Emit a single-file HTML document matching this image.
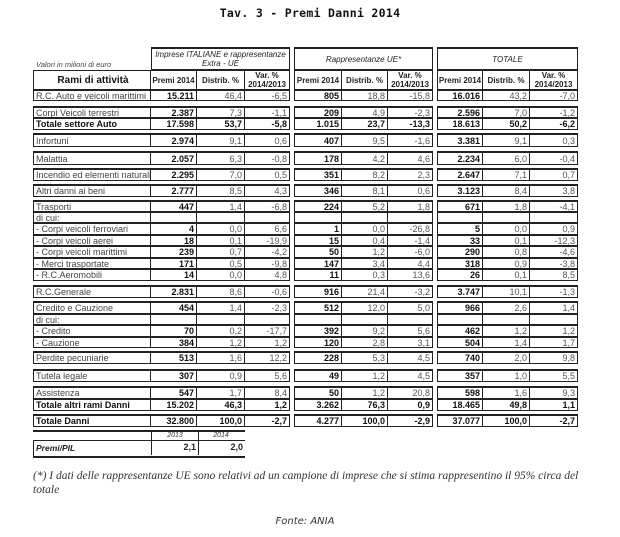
<!DOCTYPE html>
<html><head><meta charset="utf-8"><style>
body{margin:0;width:620px;height:537px;background:#fff;position:relative;overflow:hidden;font-family:"Liberation Sans",Arial,sans-serif;color:#222}
.t{position:absolute;left:0;width:620px;top:6px;text-align:center;font:bold 11.5px "DejaVu Sans Mono",monospace;letter-spacing:0.3px;color:#111}
.r{position:absolute;left:33px;display:grid;grid-template-columns:118px 46px 48px 45px 4px 48px 46px 45px 4px 46px 47px 48px;font-size:9px}
.r>*{box-sizing:border-box;border-top:1px solid #222;border-bottom:1px solid #222;border-right:1px solid #222;text-align:right;padding-right:2px;white-space:nowrap;overflow:hidden;display:flex;align-items:center;justify-content:flex-end;font-style:normal;color:#555}
.r>b{color:#111}
.r>.l{border-left:1px solid #222;justify-content:flex-start;padding-left:2px;color:#444}
.r>.f{border-left:1px solid #222}
.r>i{border:none}
.r.k>*{border-top-width:2px}
.r.B>*{font-weight:bold;color:#111}
.h>*{justify-content:center;text-align:center;font-size:8px;line-height:9px;color:#222;padding:0}
.h2>*{font-weight:bold}
.fn{position:absolute;left:33px;font:italic 11.5px "Liberation Serif",serif;color:#333;white-space:nowrap}
</style></head><body>
<div class="t">Tav. 3 - Premi Danni 2014</div>
<div style="position:absolute;left:36px;top:60px;font:italic 7.5px 'Liberation Sans',sans-serif;color:#444">Valori in milioni di euro</div>

<div class="r h k" style="top:47px;height:23px">
<i></i><span class="f" style="grid-column:span 3;font-style:italic">Imprese ITALIANE e rappresentanze<br>Extra - UE</span><i></i><span class="f" style="grid-column:span 3;font-style:italic">Rappresentanze UE*</span><i></i><span class="f" style="grid-column:span 3;font-style:italic">TOTALE</span>
</div>
<div class="r h h2" style="top:70px;height:20px">
<span class="l" style="justify-content:center;font-size:10px;color:#111">Rami di attività</span><span>Premi 2014</span><span>Distrib. %</span><span>Var. %<br>2014/2013</span><i></i><span class="f">Premi 2014</span><span>Distrib. %</span><span>Var. %<br>2014/2013</span><i></i><span class="f">Premi 2014</span><span>Distrib. %</span><span>Var. %<br>2014/2013</span>
</div>

<div class="r" style="top:90px;height:11px"><span class="l">R.C. Auto e veicoli marittimi</span><b>15.211</b><span>46,4</span><span>-6,5</span><i></i><b class="f">805</b><span>18,8</span><span>-15,8</span><i></i><b class="f">16.016</b><span>43,2</span><span>-7,0</span></div>
<div class="r k" style="top:106px;height:12px"><span class="l">Corpi Veicoli terrestri</span><b>2.387</b><span>7,3</span><span>-1,1</span><i></i><b class="f">209</b><span>4,9</span><span>-2,3</span><i></i><b class="f">2.596</b><span>7,0</span><span>-1,2</span></div>
<div class="r B" style="top:118px;height:12px"><span class="l">Totale settore Auto</span><b>17.598</b><span>53,7</span><span>-5,8</span><i></i><b class="f">1.015</b><span>23,7</span><span>-13,3</span><i></i><b class="f">18.613</b><span>50,2</span><span>-6,2</span></div>
<div class="r k" style="top:133px;height:14px"><span class="l">Infortuni</span><b>2.974</b><span>9,1</span><span>0,6</span><i></i><b class="f">407</b><span>9,5</span><span>-1,6</span><i></i><b class="f">3.381</b><span>9,1</span><span>0,3</span></div>
<div class="r k" style="top:151px;height:14px"><span class="l">Malattia</span><b>2.057</b><span>6,3</span><span>-0,8</span><i></i><b class="f">178</b><span>4,2</span><span>4,6</span><i></i><b class="f">2.234</b><span>6,0</span><span>-0,4</span></div>
<div class="r k" style="top:168px;height:13px"><span class="l">Incendio ed elementi naturali</span><b>2.295</b><span>7,0</span><span>0,5</span><i></i><b class="f">351</b><span>8,2</span><span>2,3</span><i></i><b class="f">2.647</b><span>7,1</span><span>0,7</span></div>
<div class="r k" style="top:184px;height:13px"><span class="l">Altri danni ai beni</span><b>2.777</b><span>8,5</span><span>4,3</span><i></i><b class="f">346</b><span>8,1</span><span>0,6</span><i></i><b class="f">3.123</b><span>8,4</span><span>3,8</span></div>
<div class="r k" style="top:200px;height:12px"><span class="l">Trasporti</span><b>447</b><span>1,4</span><span>-6,8</span><i></i><b class="f">224</b><span>5,2</span><span>1,8</span><i></i><b class="f">671</b><span>1,8</span><span>-4,1</span></div>
<div class="r" style="top:212px;height:11px"><span class="l">di cui:</span><b></b><span></span><span></span><i></i><b class="f"></b><span></span><span></span><i></i><b class="f"></b><span></span><span></span></div>
<div class="r" style="top:223px;height:12px"><span class="l">- Corpi veicoli ferroviari</span><b>4</b><span>0,0</span><span>6,6</span><i></i><b class="f">1</b><span>0,0</span><span>-26,8</span><i></i><b class="f">5</b><span>0,0</span><span>0,9</span></div>
<div class="r" style="top:235px;height:11px"><span class="l">- Corpi veicoli aerei</span><b>18</b><span>0,1</span><span>-19,9</span><i></i><b class="f">15</b><span>0,4</span><span>-1,4</span><i></i><b class="f">33</b><span>0,1</span><span>-12,3</span></div>
<div class="r" style="top:246px;height:12px"><span class="l">- Corpi veicoli marittimi</span><b>239</b><span>0,7</span><span>-4,2</span><i></i><b class="f">50</b><span>1,2</span><span>-6,0</span><i></i><b class="f">290</b><span>0,8</span><span>-4,6</span></div>
<div class="r" style="top:258px;height:11px"><span class="l">- Merci trasportate</span><b>171</b><span>0,5</span><span>-9,8</span><i></i><b class="f">147</b><span>3,4</span><span>4,4</span><i></i><b class="f">318</b><span>0,9</span><span>-3,8</span></div>
<div class="r" style="top:269px;height:12px"><span class="l">- R.C.Aeromobili</span><b>14</b><span>0,0</span><span>4,8</span><i></i><b class="f">11</b><span>0,3</span><span>13,6</span><i></i><b class="f">26</b><span>0,1</span><span>8,5</span></div>
<div class="r k" style="top:285px;height:13px"><span class="l">R.C.Generale</span><b>2.831</b><span>8,6</span><span>-0,6</span><i></i><b class="f">916</b><span>21,4</span><span>-3,2</span><i></i><b class="f">3.747</b><span>10,1</span><span>-1,3</span></div>
<div class="r k" style="top:301px;height:13px"><span class="l">Credito e Cauzione</span><b>454</b><span>1,4</span><span>-2,3</span><i></i><b class="f">512</b><span>12,0</span><span>5,0</span><i></i><b class="f">966</b><span>2,6</span><span>1,4</span></div>
<div class="r" style="top:314px;height:11px"><span class="l">di cui:</span><b></b><span></span><span></span><i></i><b class="f"></b><span></span><span></span><i></i><b class="f"></b><span></span><span></span></div>
<div class="r" style="top:325px;height:12px"><span class="l">- Credito</span><b>70</b><span>0,2</span><span>-17,7</span><i></i><b class="f">392</b><span>9,2</span><span>5,6</span><i></i><b class="f">462</b><span>1,2</span><span>1,2</span></div>
<div class="r" style="top:337px;height:11px"><span class="l">- Cauzione</span><b>384</b><span>1,2</span><span>1,2</span><i></i><b class="f">120</b><span>2,8</span><span>3,1</span><i></i><b class="f">504</b><span>1,4</span><span>1,7</span></div>
<div class="r k" style="top:351px;height:13px"><span class="l">Perdite pecuniarie</span><b>513</b><span>1,6</span><span>12,2</span><i></i><b class="f">228</b><span>5,3</span><span>4,5</span><i></i><b class="f">740</b><span>2,0</span><span>9,8</span></div>
<div class="r k" style="top:369px;height:13px"><span class="l">Tutela legale</span><b>307</b><span>0,9</span><span>5,6</span><i></i><b class="f">49</b><span>1,2</span><span>4,5</span><i></i><b class="f">357</b><span>1,0</span><span>5,5</span></div>
<div class="r k" style="top:386px;height:13px"><span class="l">Assistenza</span><b>547</b><span>1,7</span><span>8,4</span><i></i><b class="f">50</b><span>1,2</span><span>20,8</span><i></i><b class="f">598</b><span>1,6</span><span>9,3</span></div>
<div class="r B" style="top:399px;height:12px"><span class="l">Totale altri rami Danni</span><b>15.202</b><span>46,3</span><span>1,2</span><i></i><b class="f">3.262</b><span>76,3</span><span>0,9</span><i></i><b class="f">18.465</b><span>49,8</span><span>1,1</span></div>
<div class="r B k" style="top:414px;height:13px"><span class="l">Totale Danni</span><b>32.800</b><span>100,0</span><span>-2,7</span><i></i><b class="f">4.277</b><span>100,0</span><span>-2,9</span><i></i><b class="f">37.077</b><span>100,0</span><span>-2,7</span></div>

<div style="position:absolute;left:33px;top:430px;width:212px;border-top:2px solid #222"></div>
<div style="position:absolute;left:151px;top:432px;width:46px;height:8px;border-right:1px solid #222;border-left:1px solid #222;font:italic 7px 'Liberation Sans',sans-serif;text-align:center;color:#333">2013</div>
<div style="position:absolute;left:197px;top:432px;width:48px;height:8px;font:italic 7px 'Liberation Sans',sans-serif;text-align:center;color:#333">2014</div>
<div style="position:absolute;left:33px;top:440px;width:211px;height:15px;border:1px solid #222;border-right:none;border-bottom:2px solid #222"></div>
<div style="position:absolute;left:36px;top:443px;font:italic bold 8.5px 'Liberation Sans',sans-serif">Premi/PIL</div>
<div style="position:absolute;left:151px;top:440px;width:44px;height:15px;border-left:1px solid #222;border-right:1px solid #222;font:bold 9px 'Liberation Sans',sans-serif;text-align:right;line-height:15px;padding-right:2px">2,1</div>
<div style="position:absolute;left:197px;top:440px;width:46px;height:15px;font:bold 9px 'Liberation Sans',sans-serif;text-align:right;line-height:15px;padding-right:2px">2,0</div>

<div class="fn" style="top:470px">(*) I dati delle rappresentanze UE sono relativi ad un campione di imprese che si stima rappresentino il 95% circa del</div>
<div class="fn" style="top:484px">totale</div>
<div style="position:absolute;left:0;width:610px;top:516px;text-align:center;font:italic 10px 'DejaVu Sans',sans-serif;color:#333">Fonte: ANIA</div>
</body></html>
